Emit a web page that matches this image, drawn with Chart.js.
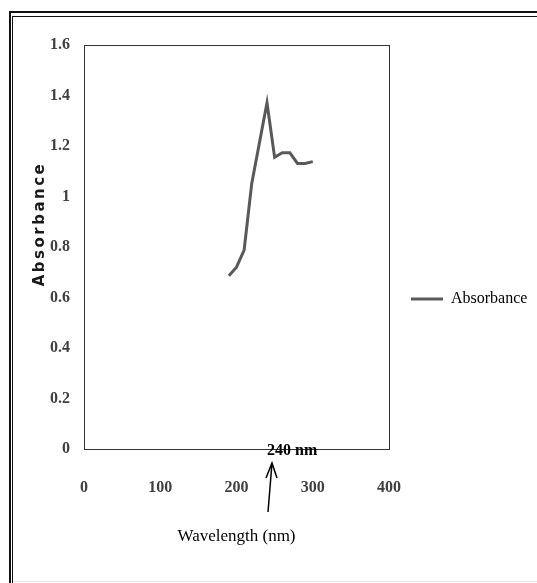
<!DOCTYPE html>
<html>
<head>
<meta charset="utf-8">
<script src="https://cdn.jsdelivr.net/npm/chart.js@4/dist/chart.umd.min.js"></script>
<style>
  html, body { margin: 0; padding: 0; background: #fff; }
  canvas { display: block; }
</style>
</head>
<body>
<canvas id="spectrumChart" width="537" height="583"></canvas>
<script>
// Data
const wavelengths = [190, 200, 210, 220, 240, 250, 260, 270, 280, 290, 300];
const absorbance = [0.686, 0.72, 0.788, 1.052, 1.371, 1.155, 1.173, 1.173, 1.131, 1.131, 1.138];
const xTicks = [0, 100, 200, 300, 400];
const yTicks = [0, 0.2, 0.4, 0.6, 0.8, 1, 1.2, 1.4, 1.6];
const peakLabel = '240 nm';
const peakWavelength = 240;

// Page frame, white background and the box round the plot
const framePlugin = {
    id: 'frame',
    beforeDraw(chart) {
        const ctx = chart.ctx;
        ctx.save();
        ctx.fillStyle = '#fff';
        ctx.fillRect(0, 0, chart.width, chart.height);
        ctx.fillStyle = '#111';
        ctx.fillRect(9, 11, chart.width - 9, 2);   // outer top
        ctx.fillRect(9, 11, 2, chart.height - 11); // outer left
        ctx.fillRect(12, 16, chart.width - 12, 1); // inner top
        ctx.fillRect(12, 16, 1, chart.height - 16); // inner left
        ctx.fillStyle = '#e6e6e6';
        ctx.fillRect(13, chart.height - 2, chart.width - 13, 1);
        ctx.restore();
    },
    beforeDatasetsDraw(chart) {
        const {ctx, chartArea: a} = chart;
        ctx.save();
        ctx.strokeStyle = '#333';
        ctx.lineWidth = 1;
        ctx.strokeRect(Math.round(a.left) + 0.5, Math.round(a.top) + 0.5,
            Math.round(a.right - a.left), Math.round(a.bottom - a.top));
        ctx.restore();
    },
    afterDraw(chart) {
        const ctx = chart.ctx;
        const xs = chart.scales.x;
        const px = xs.getPixelForValue(peakWavelength);
        ctx.save();
        // y axis title
        ctx.translate(40, 224);
        ctx.rotate(-Math.PI / 2);
        ctx.font = 'bold 15px "DejaVu Sans", Verdana, sans-serif';
        ctx.letterSpacing = '2.5px';
        ctx.fillStyle = '#1a1a1a';
        ctx.textAlign = 'center';
        ctx.textBaseline = 'middle';
        ctx.fillText('Absorbance', 0, 0);
        ctx.restore();

        // peak annotation with arrow
        ctx.save();
        ctx.font = 'bold 16px "Liberation Serif", "Times New Roman", serif';
        ctx.fillStyle = '#000';
        ctx.textAlign = 'left';
        ctx.textBaseline = 'middle';
        ctx.fillText(peakLabel, px, 451);
        ctx.strokeStyle = '#000';
        ctx.lineWidth = 1.5;
        ctx.beginPath();
        ctx.moveTo(px + 1, 512);
        ctx.lineTo(px + 5, 463);
        ctx.moveTo(px - 1, 478);
        ctx.lineTo(px + 5, 463);
        ctx.lineTo(px + 10, 478);
        ctx.stroke();
        ctx.restore();
    }
};

function initializeSpectrumChart() {
    const canvas = document.getElementById('spectrumChart');
    const tickFont = { family: '"Liberation Serif", "Times New Roman", serif', size: 16, weight: 'bold' };

    new Chart(canvas.getContext('2d'), {
        type: 'line',
        data: {
            datasets: [{
                label: 'Absorbance',
                data: wavelengths.map((w, i) => ({ x: w, y: absorbance[i] })),
                borderColor: '#595959',
                backgroundColor: '#595959',
                borderWidth: 3,
                pointRadius: 0,
                tension: 0,
                fill: false
            }]
        },
        options: {
            responsive: false,
            animation: false,
            layout: { padding: { left: 0, top: 45, right: 0, bottom: 30 } },
            plugins: {
                legend: {
                    position: 'right',
                    maxWidth: 148,
                    labels: {
                        usePointStyle: true,
                        pointStyle: 'line',
                        pointStyleWidth: 32,
                        padding: 22,
                        color: '#000',
                        font: { family: '"Liberation Serif", "Times New Roman", serif', size: 16 }
                    }
                },
                tooltip: { enabled: false }
            },
            scales: {
                x: {
                    type: 'linear',
                    min: 0,
                    max: 400,
                    afterBuildTicks: s => { s.ticks = xTicks.map(v => ({ value: v })); },
                    afterFit: s => { s.height = 104; },
                    grid: { display: false, drawTicks: false },
                    border: { display: false },
                    ticks: { padding: 29, color: '#404040', font: tickFont },
                    title: {
                        display: true,
                        text: 'Wavelength (nm)',
                        color: '#000',
                        padding: { top: 0, bottom: 6 },
                        font: { family: '"Liberation Serif", "Times New Roman", serif', size: 17 }
                    }
                },
                y: {
                    min: 0,
                    max: 1.6,
                    afterBuildTicks: s => { s.ticks = yTicks.map(v => ({ value: v })); },
                    afterFit: s => { s.width = 84; },
                    grid: { display: false, drawTicks: false },
                    border: { display: false },
                    ticks: {
                        padding: 14,
                        color: '#404040',
                        font: tickFont,
                        callback: v => String(Number(v.toFixed(1)))
                    }
                }
            }
        },
        plugins: [framePlugin]
    });
}

initializeSpectrumChart();
</script>
</body>
</html>
